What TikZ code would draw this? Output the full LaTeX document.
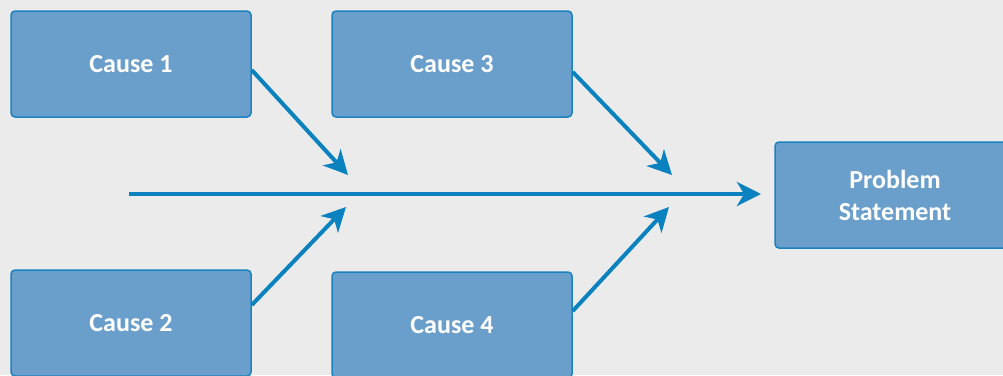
\documentclass[tikz,border=0pt]{standalone}
\usepackage{fontspec}
\setmainfont{Carlito}
\usetikzlibrary{arrows.meta}
\definecolor{bg}{HTML}{EBEBEB}
\definecolor{boxfill}{HTML}{6A9FCC}
\definecolor{boxline}{HTML}{1B82BF}
\definecolor{arr}{HTML}{0A82BF}
\begin{document}
\begin{tikzpicture}[x=1pt,y=-1pt,
  causebox/.style={draw=boxline, line width=1.5pt, fill=boxfill, rounded corners=4pt,
    minimum width=240pt, minimum height=106pt, inner sep=0pt,
    text=white, font=\fontsize{26}{32}\selectfont\bfseries, align=center},
  arrowline/.style={draw=arr, line width=4pt, -{Stealth[length=24pt,width=24pt,inset=7pt]}}]
\useasboundingbox (0,0) rectangle (1003,375);
\fill[bg] (0,0) rectangle (1003,375);
\node[causebox] (c1) at (131,64) {Cause 1};
\node[causebox] (c3) at (452,64) {Cause 3};
\node[causebox] (c2) at (131,323) {Cause 2};
\node[causebox] (c4) at (452,325) {Cause 4};
\node[causebox] (ps) at (895,195) {Problem\\Statement};
\coordinate (spine) at (129,194);
\coordinate (tip) at (761,194);
\coordinate (t1) at (348,175);
\coordinate (t3) at (672,175);
\coordinate (t2) at (346,207);
\coordinate (t4) at (669,207);
\draw[arrowline] (spine) -- (tip);
\draw[arrowline] (c1.east |- 0,70) -- (t1);
\draw[arrowline] (c3.east |- 0,72) -- (t3);
\draw[arrowline] (c2.east |- 0,305) -- (t2);
\draw[arrowline] (c4.east |- 0,311) -- (t4);
\end{tikzpicture}
\end{document}
